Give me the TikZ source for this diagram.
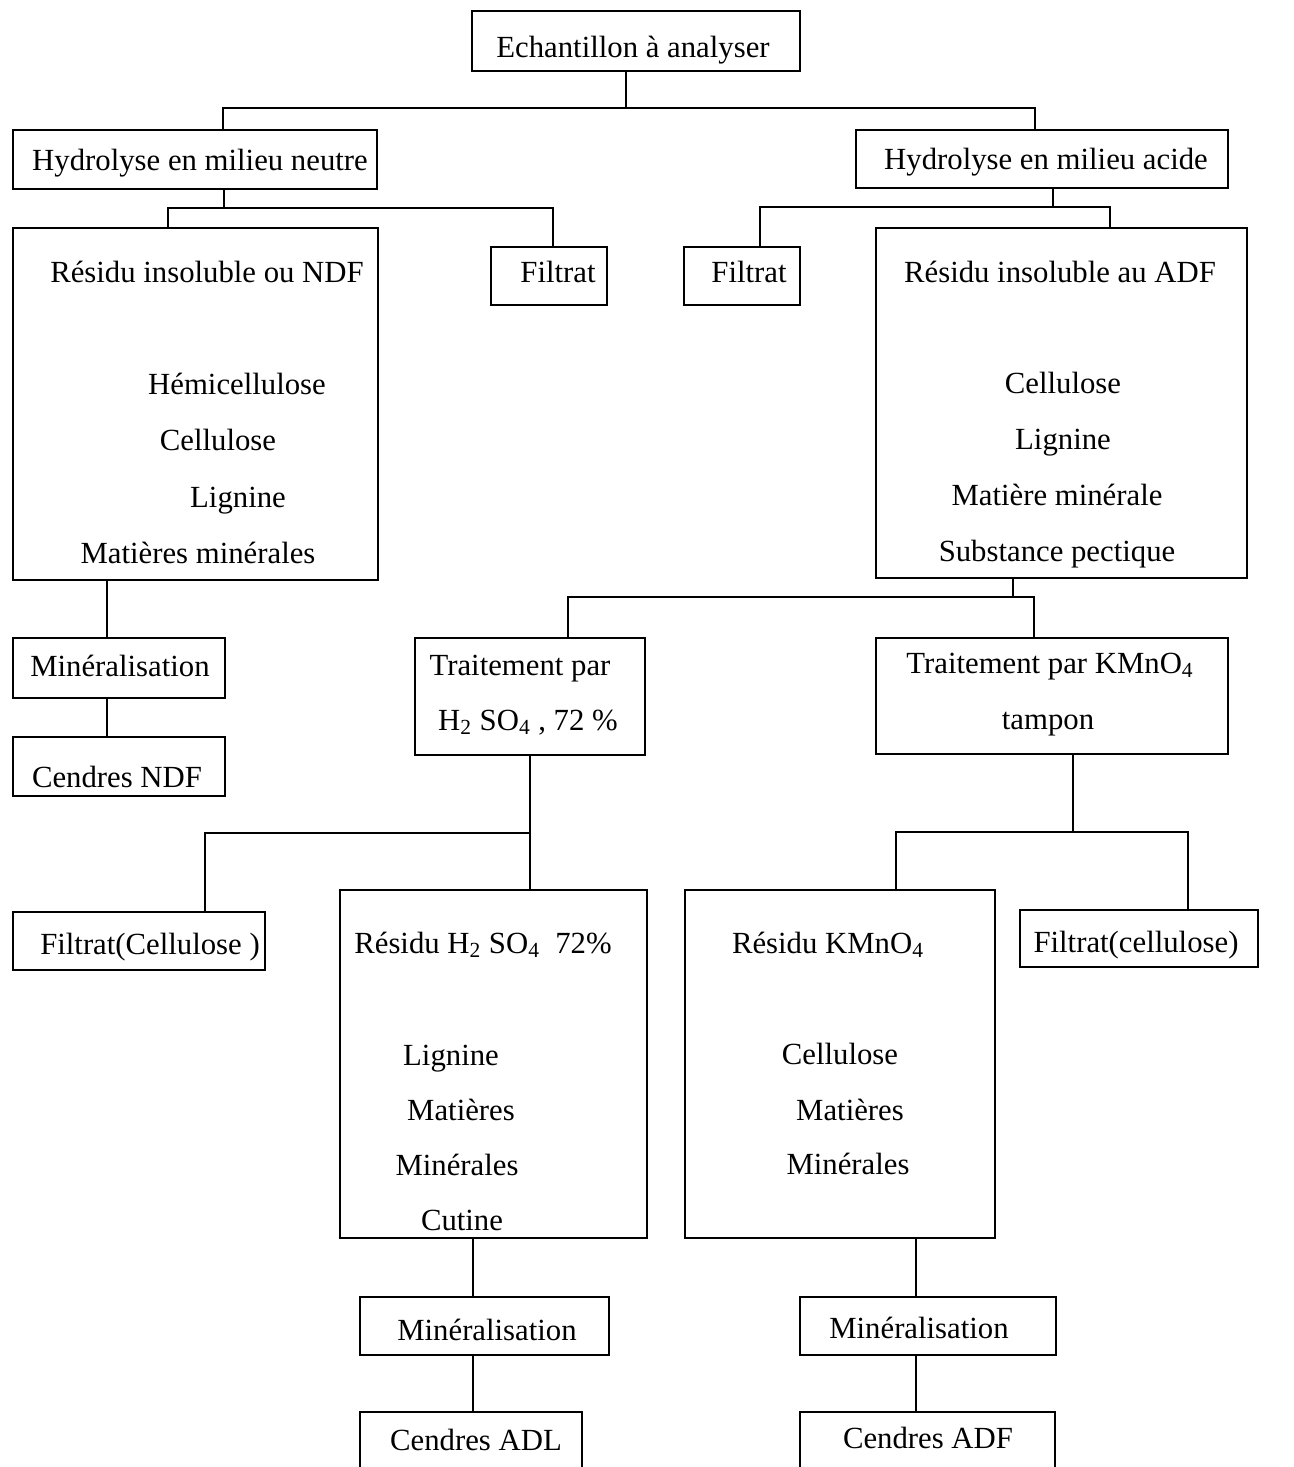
\documentclass[tikz,border=0pt]{standalone}
\usepackage{fontspec}
\setmainfont{Liberation Serif}
\tikzset{
  bx/.style 2 args={draw,line width=1.6pt,minimum width=#1*0.02cm,minimum height=#2*0.02cm,inner sep=0pt},
  txt/.style={anchor=base,inner sep=0pt,font=\fontsize{17.5}{21}\selectfont},
  ln/.style={line width=1.4pt}}
\begin{document}
\begin{tikzpicture}[x=0.02cm,y=-0.02cm]
\clip (0,0) rectangle (1294,1467);
\node[bx={328}{60}] (ech) at (636,41) {};
\node[bx={364}{59}] (hn) at (195,159.5) {};
\node[bx={372}{58}] (ha) at (1042,159) {};
\node[bx={365}{352}] (rn) at (195.5,404) {};
\node[bx={116}{58}] (fl) at (549,276) {};
\node[bx={116}{58}] (fr) at (742,276) {};
\node[bx={371}{350}] (ra) at (1061.5,403) {};
\node[bx={212}{60}] (mn) at (119,668) {};
\node[bx={212}{59}] (cn) at (119,766.5) {};
\node[bx={230}{117}] (th) at (530,696.5) {};
\node[bx={352}{116}] (tk) at (1052,696) {};
\node[bx={252}{58}] (fc) at (139,941) {};
\node[bx={307}{348}] (rh) at (493.5,1064) {};
\node[bx={310}{348}] (rk) at (840,1064) {};
\node[bx={238}{57}] (fk) at (1139,938.5) {};
\node[bx={249}{58}] (mh) at (484.5,1326) {};
\node[bx={222}{60}] (ch) at (471,1442) {};
\node[bx={256}{58}] (mk) at (928,1326) {};
\node[bx={255}{60}] (ck) at (927.5,1442) {};

\foreach \n/\x/\y/\t in {ech1/633/57/{Echantillon à analyser},
  hn1/200/170/{Hydrolyse en milieu neutre},ha1/1046/169/{Hydrolyse en milieu acide},
  fl1/558/282/Filtrat,fr1/749/282/Filtrat,
  mn1/120/676/Minéralisation,cn1/117/787/{Cendres NDF},
  fc1/150/954/{Filtrat(Cellulose )},fk1/1136/952/{Filtrat(cellulose)},
  mh1/487/1340/Minéralisation,ch1/476/1450/{Cendres ADL},
  mk1/919/1338/Minéralisation,ck1/928/1448/{Cendres ADF},
  rn1/207/282/{Résidu insoluble ou NDF},rn2/237/394/Hémicellulose,
  rn3/218/450/Cellulose,rn4/238/507/Lignine,rn5/198/563/{Matières minérales},
  ra1/1060/282/{Résidu insoluble au ADF},ra2/1063/393/Cellulose,ra3/1063/449/Lignine,
  ra4/1057/505/{Matière minérale},ra5/1057/561/{Substance pectique},
  th1/520/675/{Traitement par},th2/528/730/{H\textsubscript{2} SO\textsubscript{4} , 72 \%},
  tk1/1050/673/{Traitement par KMnO\textsubscript{4}},tk2/1048/729/tampon,
  rh1/483/953/{Résidu H\textsubscript{2} SO\textsubscript{4}\ \ 72\%},rh2/451/1065/Lignine,
  rh3/461/1120/Matières,rh4/457/1175/Minérales,rh5/462/1230/Cutine,
  rk1/828/953/{Résidu KMnO\textsubscript{4}},rk2/840/1064/Cellulose,
  rk3/850/1120/Matières,rk4/848/1174/Minérales}
  \node[txt] (\n) at (\x,\y) {\t};

\coordinate (j0) at (626,108);
\coordinate (j1) at (224,208);
\coordinate (j2) at (1053,207);
\coordinate (j3) at (1013,597);
\coordinate (j4) at (530,833);
\coordinate (j5) at (1073,832);
\foreach \n/\x in {d1/223,d2/1035,d4/168,d5/553,d7/760,d8/1110,d9/107,
  d11/568,d12/1034,d14/205,d16/896,d17/1188,d18/473,d19/916}
  \coordinate (\n) at (\x,0);

\draw[ln] (ech.south -| j0) -- (j0);
\draw[ln] (hn.north -| d1) |- (j0) -| (ha.north -| d2);
\draw[ln] (hn.south -| j1) -- (j1);
\draw[ln] (rn.north -| d4) |- (j1) -| (fl.north -| d5);
\draw[ln] (ha.south -| j2) -- (j2);
\draw[ln] (fr.north -| d7) |- (j2) -| (ra.north -| d8);
\draw[ln] (rn.south -| d9) -- (mn.north -| d9);
\draw[ln] (mn.south -| d9) -- (cn.north -| d9);
\draw[ln] (ra.south -| j3) -- (j3);
\draw[ln] (th.north -| d11) |- (j3) -| (tk.north -| d12);
\draw[ln] (th.south -| j4) -- (rh.north -| j4);
\draw[ln] (fc.north -| d14) |- (j4);
\draw[ln] (tk.south -| j5) -- (j5);
\draw[ln] (rk.north -| d16) |- (j5) -| (fk.north -| d17);
\draw[ln] (rh.south -| d18) -- (mh.north -| d18);
\draw[ln] (mh.south -| d18) -- (ch.north -| d18);
\draw[ln] (rk.south -| d19) -- (mk.north -| d19);
\draw[ln] (mk.south -| d19) -- (ck.north -| d19);
\end{tikzpicture}
\end{document}
